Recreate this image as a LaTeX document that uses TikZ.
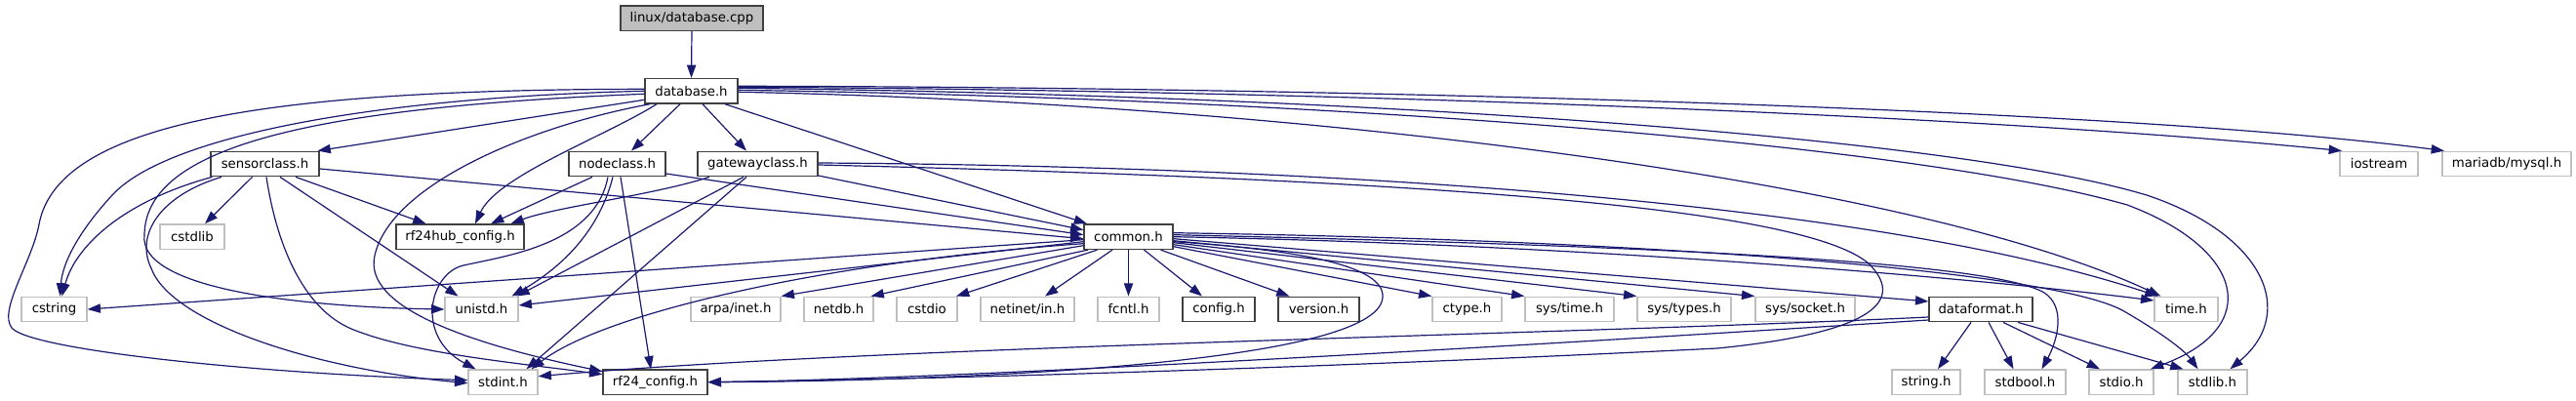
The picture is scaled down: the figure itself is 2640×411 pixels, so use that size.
\documentclass[tikz,border=0pt]{standalone}
\usepackage{fontspec}
\setmainfont{DejaVu Sans}
\usetikzlibrary{arrows.meta}
\definecolor{edgec}{HTML}{191970}
\definecolor{grayb}{HTML}{BFBFBF}
\definecolor{darkb}{HTML}{404040}
\begin{document}
\begin{tikzpicture}[x=1pt,y=-1pt,
  box/.style={rectangle, minimum height=25.5pt, inner sep=0pt, line width=1.33pt,
              font=\fontsize{13.3pt}{16pt}\selectfont, text=black},
  doc/.style={box, draw=darkb, fill=white},
  ext/.style={box, draw=grayb, fill=white},
  e/.style={draw=edgec, line width=1.2pt, -{Triangle[length=13.3pt,width=9.3pt]}}]
\useasboundingbox (0,0) rectangle (2640,411);
% nodes
\node[doc, fill=grayb, minimum width=146pt] (cpp) at (709,18.7) {linux/database.cpp};
\node[doc, minimum width=95pt] (dbh) at (708.5,93.3) {database.h};
\node[doc, minimum width=111pt] (sensor) at (271.5,168) {sensorclass.h};
\node[doc, minimum width=99pt] (nodec) at (632.5,168) {nodeclass.h};
\node[doc, minimum width=123pt] (gateway) at (776.5,168) {gatewayclass.h};
\node[ext, minimum width=80pt] (iostream) at (2438,168) {iostream};
\node[ext, minimum width=132pt] (mysql) at (2569,168) {mariadb/mysql.h};
\node[ext, minimum width=66pt] (cstdlib) at (197,242.7) {cstdlib};
\node[doc, minimum width=131pt] (rf24hub) at (471.5,242.7) {rf24hub\_config.h};
\node[doc, minimum width=91pt] (common) at (1156.5,242.7) {common.h};
\node[ext, minimum width=67pt] (cstring) at (55.5,317) {cstring};
\node[ext, minimum width=75pt] (unistd) at (493.5,317) {unistd.h};
\node[ext, minimum width=92pt] (arpa) at (754,317) {arpa/inet.h};
\node[ext, minimum width=71pt] (netdb) at (859.5,317) {netdb.h};
\node[ext, minimum width=62pt] (cstdio) at (950,317) {cstdio};
\node[ext, minimum width=96pt] (netinet) at (1053,317) {netinet/in.h};
\node[ext, minimum width=63pt] (fcntl) at (1156.5,317) {fcntl.h};
\node[doc, minimum width=74pt] (config) at (1249,317) {config.h};
\node[doc, minimum width=83pt] (version) at (1351.5,317) {version.h};
\node[ext, minimum width=71pt] (ctype) at (1503.5,317) {ctype.h};
\node[ext, minimum width=91pt] (systime) at (1608.5,317) {sys/time.h};
\node[ext, minimum width=96pt] (systypes) at (1726,317) {sys/types.h};
\node[ext, minimum width=102pt] (syssocket) at (1850,317) {sys/socket.h};
\node[doc, minimum width=106pt] (dataformat) at (2030,317) {dataformat.h};
\node[ext, minimum width=65pt] (time) at (2240.5,317) {time.h};
\node[ext, minimum width=71pt] (stdint) at (515.5,391.7) {stdint.h};
\node[doc, minimum width=107pt] (rf24cfg) at (671.5,391.7) {rf24\_config.h};
\node[ext, minimum width=70pt] (string) at (1974,391.7) {string.h};
\node[ext, minimum width=83pt] (stdbool) at (2075.5,391.7) {stdbool.h};
\node[ext, minimum width=66pt] (stdio) at (2174,391.7) {stdio.h};
\node[ext, minimum width=71pt] (stdlib) at (2267.5,391.7) {stdlib.h};
% database.cpp
\draw[e] (cpp.south) -- (dbh.north);
% database.h
\draw[e] ([yshift=-9pt]dbh.west) -- ([xshift=54pt]sensor.north);
\draw[e] ([xshift=-11.5pt]dbh.south) -- ([xshift=14.5pt]nodec.north);
\draw[e] ([xshift=11.5pt]dbh.south) -- ([xshift=-11.5pt]gateway.north);
\draw[e] ([xshift=34.5pt]dbh.south) -- ([xshift=-42.5pt]common.north);
\draw[e] ([xshift=-35.5pt]dbh.south) .. controls (620,140) and (510,180) .. ([xshift=15.5pt]rf24hub.north);
\draw[e] ([xshift=-42.5pt]dbh.south) .. controls (540,130) and (400,190) .. (384,262) .. controls (372,315) and (480,352) .. ([yshift=11pt]rf24cfg.west);
\draw[e] (dbh.west) .. controls (380,100) and (170,140) .. (115,200) .. controls (80,238) and (64,270) .. ([xshift=6pt]cstring.north);
\draw[e] ([yshift=-3pt]dbh.west) .. controls (320,110) and (150,150) .. (148,240) .. controls (140,300) and (330,315) .. (unistd.west);
\draw[e] ([yshift=2pt]dbh.west) .. controls (300,92) and (60,120) .. (40,230) .. controls (33,268) and (-2,318) .. (12,336) .. controls (30,358) and (250,382) .. ([yshift=2pt]stdint.west);
\draw[e] ([yshift=-1pt]dbh.east) .. controls (1300,105) and (1950,180) .. ([xshift=-26pt]time.north);
\draw[e] ([yshift=3pt]dbh.east) .. controls (1400,98) and (2000,140) .. (2200,200) .. controls (2320,240) and (2355,320) .. ([xshift=18pt]stdlib.north);
\draw[e] ([yshift=1pt]dbh.east) .. controls (1400,102) and (1970,150) .. (2180,210) .. controls (2300,255) and (2320,335) .. ([xshift=30pt]stdio.north);
\draw[e] ([yshift=4pt]dbh.east) .. controls (1300,92) and (2000,115) .. ([xshift=-38pt]iostream.north);
\draw[e] ([yshift=5pt]dbh.east) .. controls (1300,89) and (2150,108) .. ([xshift=-64pt]mysql.north);
% sensorclass.h
\draw[e] ([xshift=-13pt]sensor.south) -- ([xshift=13pt]cstdlib.north);
\draw[e] ([xshift=31.5pt]sensor.south) -- ([xshift=-35pt]rf24hub.north);
\draw[e] ([xshift=15.5pt]sensor.south) -- ([xshift=-24pt]unistd.north);
\draw[e] ([xshift=1.5pt]sensor.south) .. controls (285,260) and (315,318) .. (360,337) .. controls (420,362) and (530,372) .. ([yshift=8pt]rf24cfg.west);
\draw[e] ([xshift=-44.5pt]sensor.south) .. controls (165,200) and (138,240) .. (155,275) .. controls (175,330) and (320,378) .. ([yshift=-1pt]stdint.west);
\draw[e] ([xshift=-54pt]sensor.south) .. controls (130,205) and (78,250) .. ([xshift=8pt]cstring.north);
\draw[e] ([yshift=-5pt]sensor.east) -- ([yshift=-2pt]common.west);
% nodeclass.h
\draw[e] ([xshift=-25.5pt]nodec.south) -- ([xshift=31.5pt]rf24hub.north);
\draw[e] ([yshift=-10pt]nodec.east) -- ([yshift=2pt]common.west);
\draw[e] ([xshift=-4.5pt]nodec.south) .. controls (612,245) and (565,280) .. ([xshift=31pt]unistd.north);
\draw[e] ([xshift=-9.5pt]nodec.south) .. controls (610,250) and (520,262) .. (475,272) .. controls (440,280) and (425,345) .. ([xshift=-28pt]stdint.north);
\draw[e] ([xshift=3.5pt]nodec.south) -- ([xshift=-4.5pt]rf24cfg.north);
% gatewayclass.h
\draw[e] ([xshift=-49.5pt]gateway.south) .. controls (670,200) and (570,212) .. ([xshift=52pt]rf24hub.north);
\draw[e] ([xshift=-14.5pt]gateway.south) -- ([xshift=36pt]unistd.north);
\draw[e] ([xshift=-11.5pt]gateway.south) -- ([xshift=24pt]stdint.north);
\draw[e] ([yshift=-12pt]gateway.east) -- ([yshift=7pt]common.west);
\draw[e] ([yshift=1pt]gateway.east) .. controls (1300,170) and (1900,200) .. ([xshift=-29pt]time.north);
\draw[e] ([yshift=-1pt]gateway.east) .. controls (1500,185) and (1850,215) .. (1915,270) .. controls (1950,305) and (1930,340) .. (1760,357) .. controls (1400,375) and (1000,388) .. (rf24cfg.east);
% common.h
\draw[e] ([yshift=-3pt]common.west) -- (cstring.east);
\draw[e] ([yshift=-5pt]common.west) -- ([yshift=4pt]unistd.east);
\draw[e] ([yshift=-7pt]common.west) .. controls (850,268) and (620,320) .. ([xshift=29pt]stdint.north);
\draw[e] ([yshift=-9pt]common.west) -- (arpa.north east);
\draw[e] ([xshift=-41.5pt]common.south) -- ([xshift=33pt]netdb.north);
\draw[e] ([xshift=-32pt]common.south) -- ([xshift=30pt]cstdio.north);
\draw[e] ([xshift=-16.5pt]common.south) -- ([xshift=18pt]netinet.north);
\draw[e] (common.south) -- (fcntl.north);
\draw[e] ([xshift=16pt]common.south) -- ([xshift=-17pt]config.north);
\draw[e] ([xshift=33pt]common.south) -- ([xshift=-30pt]version.north);
\draw[e] ([yshift=-10pt]common.east) -- (ctype.north west);
\draw[e] ([yshift=-8pt]common.east) -- (systime.north west);
\draw[e] ([yshift=-6pt]common.east) -- (systypes.north west);
\draw[e] ([yshift=-4pt]common.east) -- (syssocket.north west);
\draw[e] ([yshift=-2pt]common.east) -- ([yshift=8pt]dataformat.west);
\draw[e] (common.east) .. controls (1600,250) and (2000,282) .. ([yshift=9pt]time.west);
\draw[e] ([yshift=2pt]common.east) .. controls (1700,252) and (2040,268) .. (2095,300) .. controls (2118,315) and (2108,350) .. ([xshift=17pt]stdbool.north);
\draw[e] ([yshift=4pt]common.east) .. controls (1700,246) and (2100,278) .. (2175,318) .. controls (2210,338) and (2238,358) .. ([xshift=-15pt]stdlib.north);
\draw[e] ([yshift=-5pt]common.east) .. controls (1330,256) and (1420,272) .. (1417,305) .. controls (1412,372) and (1000,390) .. (rf24cfg.east);
% dataformat.h
\draw[e] ([xshift=-10pt]dataformat.south) -- ([xshift=12pt]string.north);
\draw[e] ([xshift=8pt]dataformat.south) -- ([xshift=-12pt]stdbool.north);
\draw[e] ([xshift=23pt]dataformat.south) -- ([xshift=-22pt]stdio.north);
\draw[e] ([xshift=38pt]dataformat.south) -- ([xshift=-30pt]stdlib.north);
\draw[e] ([yshift=-8pt]dataformat.west) .. controls (1600,343) and (900,355) .. ([yshift=6pt]stdint.east);
\draw[e] ([yshift=-11pt]dataformat.west) .. controls (1600,352) and (1000,388) .. (rf24cfg.east);
\end{tikzpicture}
\end{document}
